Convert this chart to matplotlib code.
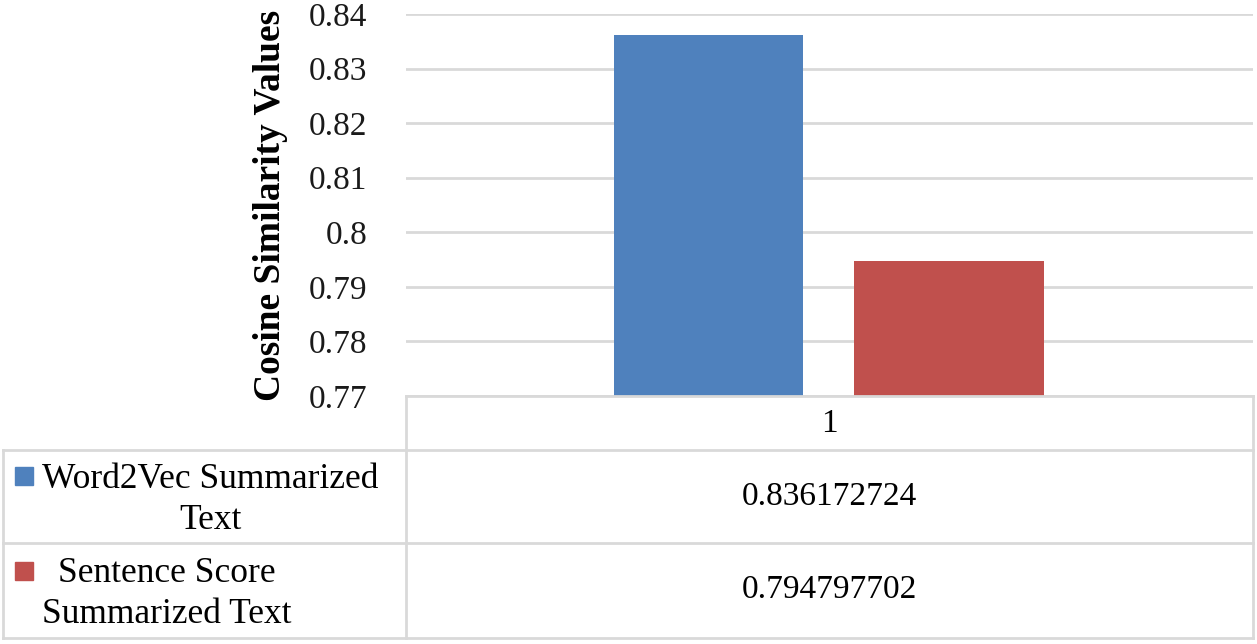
import numpy as np
import matplotlib
matplotlib.use('Agg')
import matplotlib.pyplot as plt
from matplotlib.lines import Line2D
from matplotlib.patches import Rectangle

categories = ['1']
series_names = ['Word2Vec Summarized\nText', 'Sentence Score\nSummarized Text']
series_values = [0.836172724, 0.794797702]
value_labels = ['0.836172724', '0.794797702']
colors = ['#4F81BD', '#C0504D']
yticks = [0.77, 0.78, 0.79, 0.80, 0.81, 0.82, 0.83, 0.84]

plt.rcParams['font.family'] = ['Liberation Serif', 'DejaVu Serif']

W, H = 1257, 644
fig = plt.figure(figsize=(W / 100, H / 100), dpi=100)

def fx(x):
    return x / W

def fy(y):
    return 1 - y / H

ax = fig.add_axes([fx(406), fy(396), (1253 - 406) / W, (396 - 14) / H])
offsets = [-0.143, 0.141]
for v, off, c in zip(series_values, offsets, colors):
    ax.bar(1 + off, v, width=0.224, color=c, zorder=3)
ax.set_xlim(0.5, 1.5)
ax.set_ylim(0.77, 0.84)
ax.set_yticks(yticks)
ax.set_yticklabels([f'{round(t, 2):g}' for t in yticks], fontsize=24)
ax.set_xticks([])
ax.tick_params(axis='y', length=0, pad=28, colors='#1a1a1a')
ax.yaxis.grid(True, color='#d9d9d9', linewidth=2, zorder=0)
for s in ax.spines.values():
    s.set_visible(False)
ax.set_ylabel('Cosine Similarity Values', fontsize=27, fontweight='bold', labelpad=15)

# data table under the axes
lc = '#d9d9d9'
lw = 2
for y, x0 in [(396, 406), (450, 3), (543, 3), (638, 3)]:
    fig.add_artist(Line2D([fx(x0), fx(1253)], [fy(y), fy(y)], color=lc, lw=lw))
for x, y0 in [(3, 450), (406, 396), (1253, 396)]:
    fig.add_artist(Line2D([fx(x), fx(x)], [fy(y0), fy(638)], color=lc, lw=lw))

fig.text(fx(829), fy(424), categories[0], ha='center', va='center', fontsize=24)
row_centers = [500, 594]
value_centers = [497, 590]
marker_tops = [467, 562]
for name, lab, c, yc, vc, mt in zip(series_names, value_labels, colors,
                                     row_centers, value_centers, marker_tops):
    fig.add_artist(Rectangle((fx(15), fy(mt + 18)), 18 / W, 18 / H, color=c,
                             transform=fig.transFigure))
    fig.text(fx(42), fy(yc), name, ha='left', va='center', fontsize=25.5,
             multialignment='center', linespacing=1.35)
    fig.text(fx(829), fy(vc), lab, ha='center', va='center', fontsize=24)

fig.savefig('out.png', dpi=100)
